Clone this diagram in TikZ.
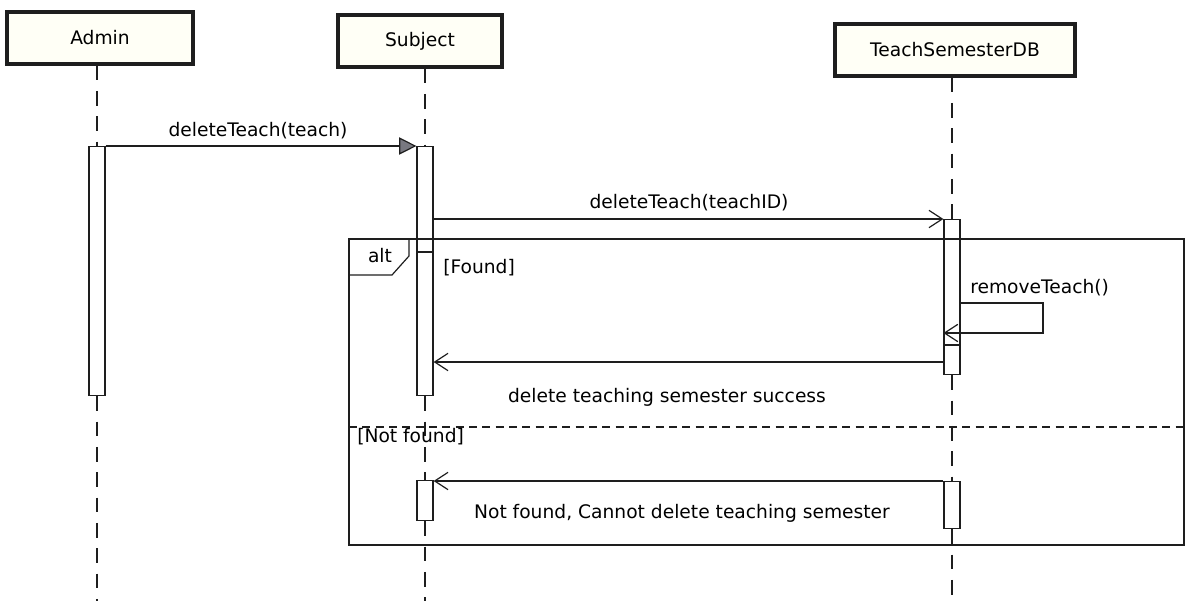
\documentclass[tikz,border=0pt]{standalone}
\usepackage{fontspec}
\setmainfont{DejaVu Sans}
\usetikzlibrary{arrows.meta}
\definecolor{boxfill}{RGB}{255,255,246}
\definecolor{ink}{RGB}{30,30,30}
\definecolor{tipfill}{RGB}{120,120,128}
\tikzset{
  lifebox/.style={draw=ink, line width=2.3pt, fill=boxfill, minimum height=52*0.75pt, inner sep=0pt, font=\fontsize{14}{16}\selectfont},
  lifeline/.style={draw=ink, line width=1.1pt, dash pattern=on 11pt off 8pt},
  act/.style={draw=ink, line width=0.9pt, fill=white, minimum width=16*0.75pt, inner sep=0pt, anchor=north},
  msg/.style={draw=ink, line width=0.9pt, -{Straight Barb[length=10pt,width=13pt,line width=0.9pt]}},
  synmsg/.style={draw=ink, line width=0.9pt, -{Triangle[length=13pt,width=13pt,fill=tipfill,color=ink]}},
  lbl/.style={font=\fontsize{14}{16}\selectfont, inner sep=0pt},
  frame/.style={draw=ink, line width=0.9pt}
}
\begin{document}
\begin{tikzpicture}[x=0.75pt,y=-0.75pt]
\useasboundingbox (0,0) rectangle (1197,601);
% lifeline heads
\node[lifebox, minimum width=186*0.75pt] (hA) at (100,38) {Admin};
\node[lifebox, minimum width=164*0.75pt] (hS) at (420,41) {Subject};
\node[lifebox, minimum width=240*0.75pt] (hT) at (955,50) {TeachSemesterDB};
% bottom ends of lifelines
\coordinate (eA) at (97,601);
\coordinate (eS) at (425,601);
\coordinate (eT) at (952,601);
% activations
\node[act, minimum height=249*0.75pt] (aA) at (97,146) {};
\node[act, minimum height=249*0.75pt] (aS1) at (425,146) {};
\node[act, minimum height=40*0.75pt] (aS2) at (425,480) {};
\node[act, minimum height=155*0.75pt] (aT1) at (952,219) {};
\node[act, minimum height=47*0.75pt] (aT2) at (952,481) {};
% lifelines (dashed, between activations)
\draw[lifeline] (hA.south -| aA.north) -- (aA.north);
\draw[lifeline] (aA.south) -- (eA);
\draw[lifeline] (hS.south -| aS1.north) -- (aS1.north);
\draw[lifeline] (aS1.south) -- (aS2.north);
\draw[lifeline] (aS2.south) -- (eS);
\draw[lifeline] (hT.south -| aT1.north) -- (aT1.north);
\draw[lifeline] (aT1.south) -- (aT2.north);
\draw[lifeline] (aT2.south) -- (eT);
\draw[ink, line width=0.9pt] (aS1.west |- 0,252) -- (aS1.east |- 0,252);
\draw[ink, line width=0.9pt] (aT1.west |- 0,345) -- (aT1.east |- 0,345);
% alt frame
\coordinate (fTL) at (349,239);
\coordinate (fBR) at (1184,545);
\draw[frame] (fTL) rectangle (fBR);
\draw[frame] (349,275) -- (392,275) -- (409,256) -- (409,239);
\node[lbl] (altlbl) at (380,256) {alt};
\draw[frame, dash pattern=on 6pt off 4pt] (349,427) -- (1184,427);
\node[lbl, anchor=west] (g1) at (443,268) {[Found]};
\node[lbl, anchor=west] (g2) at (357,437) {[Not found]};
% messages
\draw[synmsg] (aA.north east) -- (aS1.north west);
\node[lbl] (m1) at (258,131) {deleteTeach(teach)};
\draw[msg] (aS1.east |- aT1.north) -- (aT1.north west);
\node[lbl] (m2) at (689,203) {deleteTeach(teachID)};
\coordinate (s1) at (1043,303);
\coordinate (s2) at (1043,333);
\draw[msg] (aT1.east |- s1) -- (s1) -- (s2) -- (aT1.west |- s2);
\node[lbl, anchor=west] (m3) at (970,288) {removeTeach()};
\draw[msg] (aT1.west |- 0,362) -- (aS1.east |- 0,362);
\node[lbl] (m4) at (667,397) {delete teaching semester success};
\draw[msg] (aT2.north west) -- (aS2.east |- aT2.north);
\node[lbl] (m5) at (682,513) {Not found, Cannot delete teaching semester};
\end{tikzpicture}
\end{document}
